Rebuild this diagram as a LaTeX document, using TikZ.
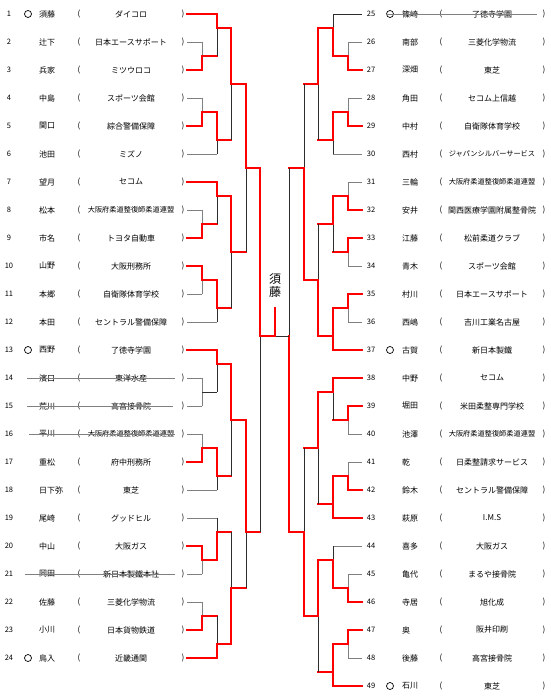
\documentclass[tikz,border=0pt]{standalone}
\usepackage{fontspec}
\usepackage{tikz}
\usetikzlibrary{calc}
\setmainfont{Noto Sans CJK JP}
\definecolor{winred}{RGB}{255,0,0}
\definecolor{linegray}{RGB}{128,128,128}
\definecolor{linedark}{RGB}{45,45,45}
\newcommand{\longf}{\fontsize{7.2}{8.6}\selectfont}
% one entrant on the left / right, y from the row index
\newcommand{\lrow}[3]{%
  \node[num] (n#1) at (9,{28*#1-14}) {#1};
  \node[nm] (s#1) at (39,{28*#1-14}) {#2};
  \node[par] (l#1) at (79,{28*#1-14}) {(};
  \node[firm] (f#1) at (131,{28*#1-14}) {#3};
  \node[par] (r#1) at (183,{28*#1-14}) {)};
  \coordinate (e#1) at (187,{28*#1-14});}
\newcommand{\rrow}[3]{%
  \node[num] (n#1) at (371,{28*#1-686}) {#1};
  \node[nm] (s#1) at (402,{28*#1-686}) {#2};
  \node[par] (l#1) at (441,{28*#1-686}) {(};
  \node[firm] (f#1) at (492,{28*#1-686}) {#3};
  \node[par] (r#1) at (544,{28*#1-686}) {)};
  \coordinate (e#1) at (362,{28*#1-686});}
% match: out point, top feed, bottom feed, top/bottom vertical style, top/bottom feed style
\newcommand{\bm}[7]{%
  \draw[#6] (#2) -- (#2 -| #1);
  \draw[#7] (#3) -- (#3 -| #1);
  \draw[#4] (#1 |- #2) -- (#1);
  \draw[#5] (#1 |- #3) -- (#1);}

\begin{document}
\begin{tikzpicture}[x=1pt, y=-1pt,
  num/.style={inner sep=0pt, font=\fontsize{7.5}{9}\selectfont},
  nm/.style={anchor=west, inner sep=0pt, font=\fontsize{8}{10}\selectfont},
  par/.style={inner sep=0pt, font=\fontsize{8}{10}\selectfont},
  firm/.style={inner sep=0pt, font=\fontsize{8}{10}\selectfont},
  seed/.style={circle, draw=black, line width=0.7pt, minimum size=7pt, inner sep=0pt},
  champ/.style={inner sep=0pt, align=center, font=\fontsize{12}{13}\selectfont},
  win/.style={draw=winred, line width=2pt, line cap=rect},
  lose/.style={draw=linedark, line width=0.9pt},
  idle/.style={draw=linegray, line width=0.9pt},
  strike/.style={draw=linegray, line width=0.9pt}]
\useasboundingbox (0,0) rectangle (550,700);
\fill[white] (0,0) rectangle (550,700);

\lrow{1}{須藤}{ダイコロ}
\lrow{2}{辻下}{日本エースサポート}
\lrow{3}{兵家}{ミツウロコ}
\lrow{4}{中島}{スポーツ会館}
\lrow{5}{関口}{綜合警備保障}
\lrow{6}{池田}{ミズノ}
\lrow{7}{望月}{セコム}
\lrow{8}{松本}{\longf 大阪府柔道整復師柔道連盟}
\lrow{9}{市名}{トヨタ自動車}
\lrow{10}{山野}{大阪刑務所}
\lrow{11}{本郷}{自衛隊体育学校}
\lrow{12}{本田}{セントラル警備保障}
\lrow{13}{西野}{了徳寺学園}
\lrow{14}{濱口}{東洋水産}
\lrow{15}{荒川}{高宮接骨院}
\lrow{16}{平川}{\longf 大阪府柔道整復師柔道連盟}
\lrow{17}{重松}{府中刑務所}
\lrow{18}{日下弥}{東芝}
\lrow{19}{尾崎}{グッドヒル}
\lrow{20}{中山}{大阪ガス}
\lrow{21}{岡田}{新日本製鐵本社}
\lrow{22}{佐藤}{三菱化学物流}
\lrow{23}{小川}{日本貨物鉄道}
\lrow{24}{鳥入}{近畿通関}

\rrow{25}{篠崎}{了徳寺学園}
\rrow{26}{南部}{三菱化学物流}
\rrow{27}{深畑}{東芝}
\rrow{28}{角田}{セコム上信越}
\rrow{29}{中村}{自衛隊体育学校}
\rrow{30}{西村}{\longf ジャパンシルバーサービス}
\rrow{31}{三輪}{\longf 大阪府柔道整復師柔道連盟}
\rrow{32}{安井}{関西医療学園附属整骨院}
\rrow{33}{江藤}{松前柔道クラブ}
\rrow{34}{青木}{スポーツ会館}
\rrow{35}{村川}{日本エースサポート}
\rrow{36}{西嶋}{吉川工業名古屋}
\rrow{37}{古賀}{新日本製鐵}
\rrow{38}{中野}{セコム}
\rrow{39}{堀田}{米田柔整専門学校}
\rrow{40}{池澤}{\longf 大阪府柔道整復師柔道連盟}
\rrow{41}{乾}{日柔整請求サービス}
\rrow{42}{鈴木}{セントラル警備保障}
\rrow{43}{萩原}{I.M.S}
\rrow{44}{喜多}{大阪ガス}
\rrow{45}{亀代}{まるや接骨院}
\rrow{46}{寺居}{旭化成}
\rrow{47}{奥}{阪井印刷}
\rrow{48}{後藤}{高宮接骨院}
\rrow{49}{石川}{東芝}

% seeds
\node[seed] (o1) at (28,14) {};
\node[seed] (o13) at (28,350) {};
\node[seed] (o24) at (28,658) {};
\node[seed] (o25) at (390,14) {};
\node[seed] (o37) at (390,350) {};
\node[seed] (o49) at (390,686) {};

% withdrawn
\draw[strike] ([xshift=14pt]n14.east) -- ([xshift=-6pt]r14.west);
\draw[strike] ([xshift=14pt]n15.east) -- ([xshift=-8pt]r15.west);
\draw[strike] ([xshift=16pt]n16.east) -- ([xshift=-6pt]r16.west);
\draw[strike] ([xshift=12pt]n21.east) -- ([xshift=-6pt]r21.west);
\draw[strike] (o25.west) -- ([xshift=-5pt]r25.west);

% match points, left half
\coordinate (LA1) at (202,56);  \coordinate (LA2) at (217,28);
\coordinate (LB1) at (202,112); \coordinate (LB2) at (217,140);
\coordinate (LAB) at (231,84);
\coordinate (LC1) at (202,224); \coordinate (LC2) at (217,196);
\coordinate (LD1) at (202,280); \coordinate (LD2) at (217,308);
\coordinate (LCD) at (231,252);
\coordinate (LQ1) at (246,168);
\coordinate (LE1) at (202,392); \coordinate (LE2) at (217,364);
\coordinate (LF1) at (202,448); \coordinate (LF2) at (217,476);
\coordinate (LEF) at (231,420);
\coordinate (LG1) at (202,560); \coordinate (LG2) at (217,532);
\coordinate (LH1) at (202,616); \coordinate (LH2) at (217,644);
\coordinate (LGH) at (231,588);
\coordinate (LQ2) at (246,532);
\coordinate (LS) at (260,336);
% match points, right half
\coordinate (RA1) at (348,56);  \coordinate (RA2) at (333,28);
\coordinate (RB1) at (348,112); \coordinate (RB2) at (333,140);
\coordinate (RAB) at (318,84);
\coordinate (RC1) at (348,196); \coordinate (RC2) at (348,252);
\coordinate (RC3) at (333,224);
\coordinate (RD1) at (348,308); \coordinate (RD2) at (333,336);
\coordinate (RCD) at (318,280);
\coordinate (RQ1) at (304,168);
\coordinate (RE1) at (348,420); \coordinate (RE2) at (333,392);
\coordinate (RF1) at (348,476); \coordinate (RF2) at (333,504);
\coordinate (REF) at (318,448);
\coordinate (RG1) at (348,588); \coordinate (RG2) at (333,560);
\coordinate (RH1) at (348,644); \coordinate (RH2) at (333,672);
\coordinate (RGH) at (318,616);
\coordinate (RQ2) at (304,532);
\coordinate (RS) at (289,336);
\coordinate (F) at (275,336);
\coordinate (Ftop) at (275,308);

% left bracket
\bm{LA1}{e2}{e3}{idle}{win}{idle}{win}
\bm{LA2}{e1}{LA1}{win}{lose}{win}{win}
\bm{LB1}{e4}{e5}{idle}{win}{idle}{win}
\bm{LB2}{LB1}{e6}{win}{lose}{win}{idle}
\bm{LAB}{LA2}{LB2}{win}{lose}{win}{win}
\bm{LC1}{e8}{e9}{idle}{win}{idle}{win}
\bm{LC2}{e7}{LC1}{win}{lose}{win}{win}
\bm{LD1}{e10}{e11}{win}{idle}{win}{idle}
\bm{LD2}{LD1}{e12}{win}{lose}{win}{idle}
\bm{LCD}{LC2}{LD2}{win}{lose}{win}{win}
\bm{LQ1}{LAB}{LCD}{win}{lose}{win}{win}
\bm{LE1}{e14}{e15}{idle}{idle}{idle}{idle}
\bm{LE2}{e13}{LE1}{win}{lose}{win}{lose}
\bm{LF1}{e16}{e17}{idle}{win}{idle}{win}
\bm{LF2}{LF1}{e18}{win}{lose}{win}{idle}
\bm{LEF}{LE2}{LF2}{win}{lose}{win}{win}
\bm{LG1}{e20}{e21}{win}{idle}{win}{idle}
\bm{LG2}{e19}{LG1}{lose}{win}{idle}{win}
\bm{LH1}{e22}{e23}{idle}{win}{idle}{win}
\bm{LH2}{LH1}{e24}{lose}{win}{win}{win}
\bm{LGH}{LG2}{LH2}{lose}{win}{win}{win}
\bm{LQ2}{LEF}{LGH}{win}{lose}{win}{win}
\bm{LS}{LQ1}{LQ2}{win}{lose}{win}{win}

% right bracket
\bm{RA1}{e26}{e27}{idle}{win}{idle}{win}
\bm{RA2}{e25}{RA1}{lose}{win}{lose}{win}
\bm{RB1}{e28}{e29}{idle}{win}{idle}{win}
\bm{RB2}{RB1}{e30}{win}{lose}{win}{idle}
\bm{RAB}{RA2}{RB2}{win}{lose}{win}{win}
\bm{RC1}{e31}{e32}{idle}{win}{idle}{win}
\bm{RC2}{e33}{e34}{win}{idle}{win}{idle}
\bm{RC3}{RC1}{RC2}{win}{lose}{win}{win}
\bm{RD1}{e35}{e36}{win}{idle}{win}{idle}
\bm{RD2}{RD1}{e37}{win}{win}{win}{win}
\bm{RCD}{RC3}{RD2}{lose}{win}{win}{win}
\bm{RQ1}{RAB}{RCD}{lose}{win}{win}{win}
\bm{RE1}{e39}{e40}{win}{idle}{win}{idle}
\bm{RE2}{e38}{RE1}{win}{lose}{win}{win}
\bm{RF1}{e41}{e42}{idle}{win}{idle}{win}
\bm{RF2}{RF1}{e43}{win}{win}{win}{win}
\bm{REF}{RE2}{RF2}{win}{lose}{win}{win}
\bm{RG1}{e45}{e46}{idle}{win}{idle}{win}
\bm{RG2}{e44}{RG1}{lose}{win}{idle}{win}
\bm{RH1}{e47}{e48}{win}{idle}{win}{idle}
\bm{RH2}{RH1}{e49}{win}{win}{win}{win}
\bm{RGH}{RG2}{RH2}{win}{lose}{win}{win}
\bm{RQ2}{REF}{RGH}{lose}{win}{win}{win}
\bm{RS}{RQ1}{RQ2}{lose}{win}{win}{win}

% final
\draw[win] (LS) -- (F);
\draw[lose] (RS) -- (F);
\draw[win] (F) -- (Ftop);
\node[champ] (champ) at (275,286) {須\\藤};
\end{tikzpicture}
\end{document}
